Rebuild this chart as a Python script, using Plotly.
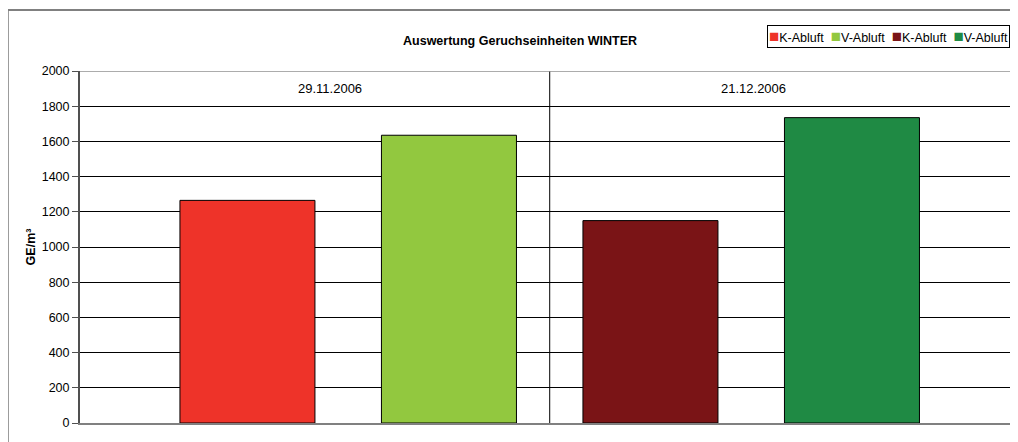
import plotly.graph_objects as go

series = ["K-Abluft", "V-Abluft", "K-Abluft", "V-Abluft"]
positions = [0, 1, 2, 3]
values = [1265, 1635, 1150, 1735]
colors = ["#EE3329", "#92C83F", "#7A1416", "#1F8A44"]
dates = ["29.11.2006", "21.12.2006"]
date_pos = [0.41, 2.51]
y_ticks = [0, 200, 400, 600, 800, 1000, 1200, 1400, 1600, 1800, 2000]

FONT = "Liberation Sans, Arial, sans-serif"

fig = go.Figure()
for name, xpos, val, col in zip(series, positions, values, colors):
    fig.add_trace(go.Bar(
        x=[xpos], y=[val], name=name, width=0.67,
        marker=dict(color=col, line=dict(color="black", width=1)),
    ))

for d, xp in zip(dates, date_pos):
    fig.add_annotation(x=xp, y=1903, text=d, showarrow=False,
                       font=dict(size=13, color="black", family=FONT))

# compact boxed legend, like the original spreadsheet chart
legend_text = "  ".join(
    f"<span style='color:{c};font-size:17px'>■</span>{n}"
    for n, c in zip(series, colors)
)
fig.add_annotation(xref="paper", yref="paper", x=0.9915, y=1.098,
                   xanchor="right", yanchor="middle", showarrow=False,
                   text=legend_text, bgcolor="white", bordercolor="black",
                   borderwidth=1, borderpad=1,
                   font=dict(size=12.5, color="black", family=FONT))

fig.update_layout(
    width=1010, height=434,
    barmode="overlay",
    showlegend=False,
    plot_bgcolor="white",
    paper_bgcolor="white",
    font=dict(family=FONT, size=12.5, color="black"),
    margin=dict(l=72, r=0, t=63, b=19, autoexpand=False),
    title=dict(text="<b>Auswertung Geruchseinheiten WINTER</b>",
               x=0.507, xref="container", xanchor="center",
               y=0.924, yanchor="middle",
               font=dict(size=12.5, family=FONT, color="black")),
    xaxis=dict(range=[-0.831, 3.824], showticklabels=False, showgrid=False,
               zeroline=False, showline=True, linecolor="#808080", linewidth=2),
    yaxis=dict(range=[0, 2000], tickvals=y_ticks, showgrid=True,
               gridcolor="black", gridwidth=1, zeroline=False,
               showline=True, linecolor="#505050", linewidth=2,
               ticks="outside", ticklen=6, tickcolor="#505050",
               tickfont=dict(size=12.5),
               title=dict(text="<b>GE/m³</b>", font=dict(size=12.5), standoff=3)),
    shapes=[
        dict(type="line", xref="x", yref="y", x0=1.5, x1=1.5, y0=0, y1=2000,
             line=dict(color="black", width=1)),
        dict(type="line", xref="paper", yref="y", x0=0, x1=1, y0=2000, y1=2000,
             line=dict(color="#909090", width=1.5)),
        dict(type="rect", xref="paper", yref="paper", x0=-0.077, x1=1.05,
             y0=-0.2, y1=1.173, line=dict(color="#808080", width=2),
             layer="below"),
    ],
)

fig.write_html("out.html")
